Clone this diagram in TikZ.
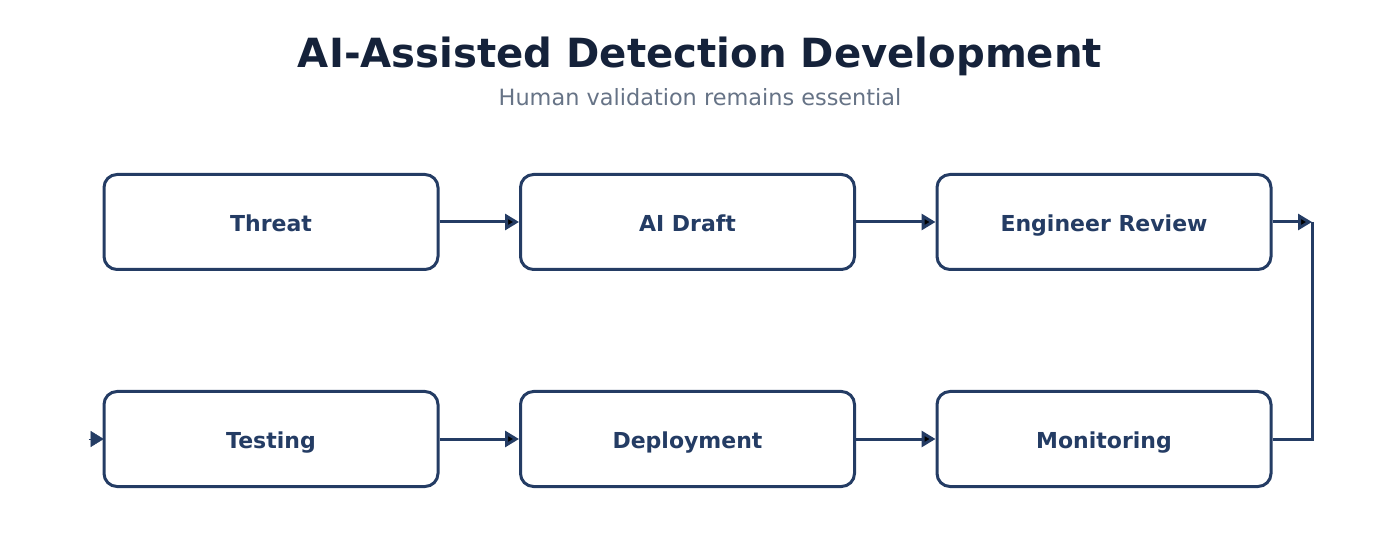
\documentclass[tikz,border=0pt]{standalone}
\usepackage{fontspec}
\setmainfont{DejaVu Sans}
\usepackage{tikz}
\usetikzlibrary{positioning}
\usetikzlibrary{arrows.meta}
\definecolor{navy}{HTML}{243C64}
\definecolor{titlenavy}{HTML}{15223A}
\definecolor{subgray}{HTML}{667386}

\begin{document}
\begin{tikzpicture}[line width=1.5pt,stage/.style={rectangle,rounded corners=6.5pt,draw=navy,fill=white,minimum width=167pt,minimum height=47.5pt,text height=9.5pt,text depth=0pt,text=navy,font=\fontsize{11}{13}\selectfont\bfseries}]

		  \useasboundingbox (0pt,0pt) rectangle (700pt,-280pt);

		  % Titel
		  \node[anchor=base,text=titlenavy,font=\fontsize{20.1}{24}\selectfont\bfseries] (Title) at (350pt,-34pt) {AI-Assisted Detection Development};
		  \node[anchor=base,text=subgray,font=\fontsize{11.2}{13}\selectfont] (Sub) at (350pt,-53pt) {Human validation remains essential};

		  % 1. Reihe
		  \node[stage] (Threat) at (135.5pt,-111pt) {Threat};
		  \node[stage] (Draft)  [right=208.25pt of Threat.center,anchor=center] {AI Draft};
		  \node[stage] (Review) [right=208.25pt of Draft.center,anchor=center] {Engineer Review};

		  % 2. Reihe
		  \node[stage] (Testing) [below=108.5pt of Threat.center,anchor=center] {Testing};
		  \node[stage] (Deploy)  [right=208.25pt of Testing.center,anchor=center] {Deployment};
		  \node[stage] (Monitor) [right=208.25pt of Deploy.center,anchor=center] {Monitoring};

		  \coordinate (Turn)  at (656pt,0 |- Review.east);
		  \coordinate (Entry) at ([xshift=-7pt]Testing.west);

		  \path[->,>={Triangle[length=7pt,width=8pt]},draw=navy,line width=1.5pt]
			(Threat)  edge (Draft)
			(Draft)   edge (Review)
			(Review)  edge (Turn)
			(Testing) edge (Deploy)
			(Deploy)  edge (Monitor);

		  \draw[-{Triangle[length=6.5pt,width=8pt]},navy,line width=0.2pt] (Entry) -- ([xshift=0.6pt]Testing.west);

		  \draw[navy,line width=1.5pt] (Turn) |- (Monitor.east);

		\end{tikzpicture}
\end{document}
